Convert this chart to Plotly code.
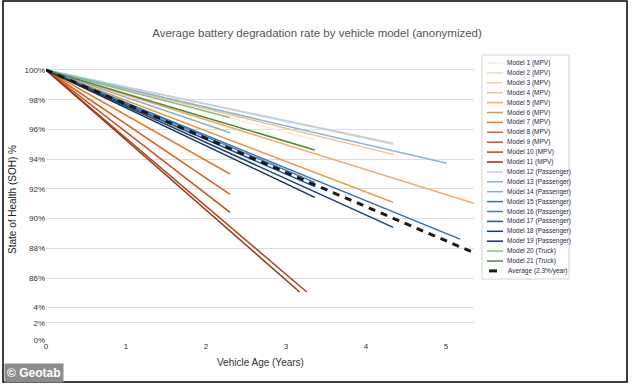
import plotly.graph_objects as go

# ---- data ----
models = [
    "Model 1 (MPV)", "Model 2 (MPV)", "Model 3 (MPV)", "Model 4 (MPV)", "Model 5 (MPV)",
    "Model 6 (MPV)", "Model 7 (MPV)", "Model 8 (MPV)", "Model 9 (MPV)", "Model 10 (MPV)",
    "Model 11 (MPV)", "Model 12 (Passenger)", "Model 13 (Passenger)", "Model 14 (Passenger)",
    "Model 15 (Passenger)", "Model 16 (Passenger)", "Model 17 (Passenger)", "Model 18 (Passenger)",
    "Model 19 (Passenger)", "Model 20 (Truck)", "Model 21 (Truck)",
]
start_age = 0
start_soh = 100
end_age = [3.36, 2.30, 4.34, 4.34, 5.35, 4.34, 2.30, 2.30, 2.30, 3.26, 3.17,
           4.34, 5.01, 2.30, 5.175, 3.36, 3.36, 4.34, 3.36, 2.30, 3.36]
end_soh = [95.30, 96.30, 95.00, 94.32, 91.03, 91.09, 93.00, 91.63, 90.42, 85.06, 85.06,
           95.07, 93.72, 95.78, 88.62, 92.44, 92.15, 89.41, 91.43, 96.80, 94.62]

avg_name = "Average (2.3%/year)"
avg_age = [0, 5.35]
avg_soh = [100, 87.7]

title_text = "Average battery degradation rate by vehicle model (anonymized)"
x_title = "Vehicle Age (Years)"
y_title = "State of Health (SOH) %"
x_ticks = [0, 1, 2, 3, 4, 5]
y_tick_labels = ["0%", "2%", "4%", "86%", "88%", "90%", "92%", "94%", "96%", "98%", "100%"]
# broken-axis positions for the low ticks (axis is squeezed below 86%)
y_tick_pos = [81.83, 82.98, 84.05, 86, 88, 90, 92, 94, 96, 98, 100]

colors = [
    "#f8ecdc", "#f6dcb8", "#f4cfa3", "#f3c18a", "#f0ad5f", "#e9922f",
    "#e47a24", "#d4631c", "#c4521a", "#b0441a", "#963611",
    "#b9d4ec", "#86b5df", "#93abc4", "#2f70b0", "#3c7fc0",
    "#1f5797", "#173f74", "#10305c", "#8cc083", "#4a8b3c",
]
avg_color = "#1a1a1a"

fig = go.Figure()
for name, xa, ya, c in zip(models, end_age, end_soh, colors):
    fig.add_trace(go.Scatter(
        x=[start_age, xa], y=[start_soh, ya], mode="lines", name=name,
        line=dict(color=c, width=1.5), showlegend=False,
    ))
fig.add_trace(go.Scatter(
    x=avg_age, y=avg_soh, mode="lines", name=avg_name, showlegend=False,
    line=dict(color=avg_color, width=3, dash="7px,6px"),
))

W, H = 634, 386
L, R, T, B = 46, 160, 63, 46
pw, ph = W - L - R, H - T - B

def px(xp):
    return (xp - L) / pw

def py(yp):
    return (H - B - yp) / ph

fig.update_layout(
    width=W, height=H,
    margin=dict(l=L, r=R, t=T, b=B, autoexpand=False),
    paper_bgcolor="white", plot_bgcolor="white",
    font=dict(family="Liberation Sans, Arial, sans-serif", color="#333"),
    title=dict(text=title_text, x=0.5, xanchor="center", y=1 - 33 / H, yanchor="middle",
               font=dict(size=11.5, color="#555")),
    xaxis=dict(range=[0, 5.35], tickvals=x_ticks, showgrid=False, zeroline=False,
               showline=False, ticks="", tickfont=dict(size=8, color="#333"), automargin=False),
    yaxis=dict(range=[81.83, 100.47], tickvals=y_tick_pos, ticktext=y_tick_labels,
               showgrid=True, gridcolor="#dedede", gridwidth=1, zeroline=False,
               showline=False, ticks="", tickfont=dict(size=8, color="#333"), automargin=False),
    showlegend=False,
)

ann_common = dict(xref="paper", yref="paper", showarrow=False)
fig.add_annotation(text=x_title, x=px(260), y=py(362), xanchor="center", yanchor="middle",
                   font=dict(size=10, color="#333"), **ann_common)
fig.add_annotation(text=y_title, x=px(12), y=py(200), xanchor="center", yanchor="middle",
                   textangle=-90, font=dict(size=10, color="#222"), **ann_common)

# legend drawn by hand (compact rows as in the reference)
leg_x0, leg_x1, leg_y0, leg_y1 = 482, 569, 55, 279
fig.add_shape(type="rect", xref="paper", yref="paper",
              x0=px(leg_x0), x1=px(leg_x1), y0=py(leg_y1), y1=py(leg_y0),
              line=dict(color="#d4d4d4", width=1), fillcolor="white", layer="above")
row0, row_h = 63, 9.9
leg_names = models + [avg_name]
leg_colors = colors + [avg_color]
for i, (nm, c) in enumerate(zip(leg_names, leg_colors)):
    yy = row0 + i * row_h
    is_avg = i == len(models)
    fig.add_shape(type="line", xref="paper", yref="paper",
                  x0=px(487 if not is_avg else 489), x1=px(503 if not is_avg else 497),
                  y0=py(yy), y1=py(yy),
                  line=dict(color=c, width=1.5 if not is_avg else 3), layer="above")
    fig.add_annotation(text=nm, x=px(505 if not is_avg else 506), y=py(yy), xanchor="left",
                       yanchor="middle", font=dict(size=6.5, color="#1f2a44"), **ann_common)

# outer black frame
fig.add_shape(type="rect", xref="paper", yref="paper",
              x0=px(3), x1=px(627), y0=py(382), y1=py(1),
              line=dict(color="black", width=1.5), fillcolor="rgba(0,0,0,0)", layer="above")
# watermark
fig.add_annotation(text="<b>© Geotab</b>", x=px(4), y=py(383), xanchor="left", yanchor="bottom",
                   font=dict(size=12, color="white", family="Liberation Sans, Arial"),
                   bgcolor="#8c8c8c", borderpad=2, **ann_common)

fig.write_html("out.html", config={"displayModeBar": False},
               post_script="document.body.style.margin='0';document.body.style.overflow='hidden';")
